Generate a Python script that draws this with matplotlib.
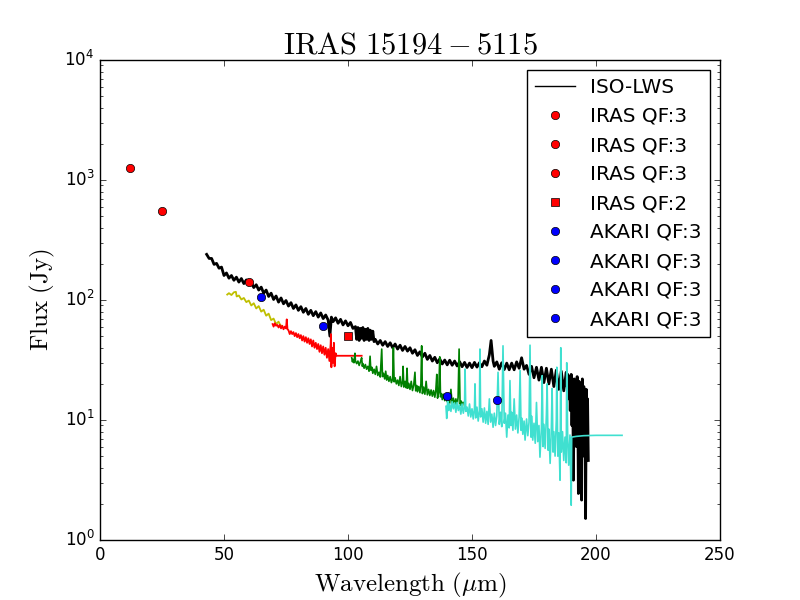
import matplotlib
matplotlib.use("Agg")
import matplotlib.pyplot as plt

plt.style.use("classic")

# ISO-LWS spectrum (black)
lws_wl = [43, 44, 45, 46, 47, 48, 49, 50, 51, 52, 53, 54, 55, 56, 57, 58, 59, 60,
          61, 62, 63, 64, 65, 66, 67, 68, 69, 70, 71, 72, 73, 74, 75, 76, 77, 78,
          79, 80, 81, 82, 83, 84, 85, 86, 87, 88, 89, 90, 91, 92, 92.7, 93.3, 94,
          95, 96, 97, 98, 99, 100, 101, 102, 103, 103.5, 104, 104.5, 105, 105.5,
          106, 106.5, 107, 107.5, 108, 108.5, 109, 109.5, 110, 110.5, 111, 112,
          113, 114, 115, 116, 117, 118, 119, 120, 121, 122, 123, 124, 125, 126,
          127, 128, 129, 130, 131, 132, 133, 134, 135, 136, 137, 138, 139, 140,
          141, 142, 143, 144, 145, 146, 147, 148, 149, 150, 151, 152, 153, 154,
          155, 156, 157, 157.7, 158.5, 159, 160, 161, 162, 163, 164, 165, 166,
          167, 168, 169, 170, 171, 172, 173, 174, 175, 176, 177, 178, 179, 180,
          181, 182, 183, 184, 185, 186, 187, 188, 188.3, 188.6, 189, 189.3,
          189.6, 190, 190.3, 190.6, 190.9, 191.2, 191.5, 191.8, 192.1, 192.4,
          192.7, 192.9, 193.2, 193.5, 193.8, 194, 194.2, 194.5, 194.8, 195.1,
          195.4, 195.6, 195.8, 196.1, 196.4, 196.6, 196.9]
lws_flux = [240, 222, 222, 198, 202, 184, 188, 160, 168, 152, 160, 146, 155, 141,
            151, 137, 147, 134, 140, 127, 134, 121, 128, 114, 121, 107, 114, 101,
            108, 96, 104, 93, 99, 89, 95, 85, 91, 82, 88, 79, 85, 76, 82, 74, 80,
            72, 78, 70, 75, 68, 50, 72, 66, 71, 64, 69, 62, 67, 61, 65, 58, 60, 47,
            59, 46, 58, 48, 59, 46, 57, 47, 58, 46, 56, 47, 55, 45, 47, 43, 46, 42,
            45, 41, 44, 40, 43, 39, 42, 38, 41, 37.5, 40, 36, 38.5, 34.5, 37, 33.5,
            36, 32, 34.5, 31, 33.3, 30, 32.3, 29.3, 31.6, 28.8, 31.5, 28.6, 31,
            28.2, 30.6, 27.8, 30.2, 27.4, 29.8, 27.3, 30.2, 27.6, 30, 27.8, 31,
            28.6, 35, 46, 31, 28, 30.5, 26.5, 30, 26.3, 29.8, 26.2, 29.8, 26.2,
            30.5, 27, 33, 26.5, 28.5, 24, 28, 22.5, 27.5, 21.5, 27.5, 20.5, 27, 20,
            26.5, 19, 26, 18, 25.5, 17.5, 25, 19, 24, 15, 23, 12, 24, 9, 20, 3.15,
            22, 8, 21, 6, 23, 9, 2.44, 21, 7, 19, 5.5, 2.15, 22, 5, 19, 7, 17, 1.51,
            18, 6, 15, 4.6]

# yellow segment
yel_wl = [51.3, 52, 53, 54, 54.8, 55.1, 56, 57, 58, 59, 60, 61, 62, 63, 64, 65,
          66, 67, 68, 69, 70, 71, 72, 73, 73.3]
yel_flux = [111, 114, 110, 116, 117, 107, 109, 101, 104, 96, 99, 90, 94, 85, 89,
            80, 83, 74, 77, 68, 70, 63, 66, 60, 61]

# red segment
red_wl = [69.6, 70, 70.5, 71, 71.5, 72, 72.5, 73, 73.5, 74, 74.5, 75, 75.3, 75.6,
          76, 76.5, 77, 77.5, 78, 78.5, 79, 79.5, 80, 80.5, 81, 81.5, 82, 82.5,
          83, 83.5, 84, 84.5, 85, 85.5, 86, 86.5, 87, 87.5, 88, 88.5, 89, 89.5,
          90, 90.5, 91, 91.5, 92, 92.5, 93, 93.1, 93.3, 93.6, 94, 94.3, 94.6, 95,
          95.4, 105.5]
red_flux = [63, 60, 64, 61, 62, 59, 62, 58, 61, 57, 60, 58, 69, 57, 56, 52, 55,
            52, 54, 50, 53, 49, 52, 48, 51, 46, 50, 45, 49, 44, 48, 43, 47, 41,
            46, 40, 44, 39, 43, 37, 42, 36, 41, 35, 40, 33, 39, 31, 43, 52, 27.5,
            40, 30, 44, 28, 36, 34.3, 34.3]

# green segment
grn_wl = [101.5, 101.8, 102, 102.4, 102.8, 103, 103.5, 104, 104.5, 105, 105.5,
          105.8, 106, 106.5, 107, 107.5, 108, 108.5, 108.9, 109.2, 109.6, 110,
          110.5, 111, 111.5, 112, 112.5, 113, 113.6, 113.9, 114.3, 114.8, 115.2,
          115.6, 116, 116.5, 117, 117.5, 118, 118.3, 118.6, 119, 119.5, 120,
          120.5, 121, 121.5, 122, 122.2, 122.5, 123, 123.5, 123.8, 124.1, 124.5,
          125, 125.5, 126, 126.5, 127, 127.3, 127.7, 128, 128.5, 129, 129.4,
          129.7, 130, 130.5, 131, 131.5, 132, 132.5, 133, 133.5, 134, 134.5, 135,
          135.4, 135.8, 136.1, 136.6, 137, 137.3, 137.7, 138, 138.5, 139, 139.5,
          140, 140.5, 141, 141.5, 142, 142.5, 143, 143.5, 144, 144.4, 144.8,
          145.2, 145.6, 146, 146.4]
grn_flux = [33, 30.5, 32, 30, 36, 31, 29.5, 31, 28.5, 30.5, 33, 28, 29.5, 27, 29,
            26.5, 28, 25.5, 34, 26, 27.5, 24.5, 26.5, 24, 28, 23.5, 25, 22.8, 39,
            23, 24.5, 22, 25.5, 21.5, 23.5, 21, 23, 20.5, 22, 40, 20.8, 22.5, 20,
            21.5, 19.4, 23, 19, 21, 28, 18.8, 21, 18.5, 27, 18.4, 20.2, 18, 21,
            17.6, 19.5, 25, 17.5, 19.4, 17.2, 19, 16.9, 20, 41.5, 16.6, 18.8, 16.4,
            21, 16.2, 18, 16, 17.8, 15.8, 17.6, 15.5, 17.5, 24, 15.2, 17, 33.6,
            15.6, 16.6, 14.8, 16.4, 14.5, 16.2, 14.2, 15.8, 13.8, 18, 13.6, 15.2,
            13.4, 15, 13, 15.5, 39, 13.2, 14.4, 12.6, 14]

# turquoise segment
tq_wl = [139.5, 139.8, 140.2, 140.6, 141, 141.5, 142, 142.5, 143, 143.5, 144,
         144.5, 145, 145.5, 146, 146.5, 147, 147.2, 147.5, 148, 148.5, 149,
         149.5, 150, 150.5, 151, 151.2, 151.5, 152, 152.5, 153, 153.2, 153.5,
         154, 154.5, 155, 155.5, 156, 156.5, 157, 157.5, 158, 158.5, 159, 159.5,
         160, 160.5, 161, 161.5, 162, 162.5, 163, 163.5, 164, 164.5, 165, 165.3,
         165.7, 166, 166.5, 167, 167.5, 168, 168.5, 169, 169.4, 169.8, 170,
         170.5, 171, 171.4, 172, 172.5, 173, 173.4, 173.8, 174, 174.5, 175,
         175.5, 176, 176.5, 177, 177.4, 178, 178.3, 178.7, 179, 179.5, 180,
         180.3, 180.7, 181, 181.5, 182, 182.3, 182.7, 183, 183.5, 184, 184.2,
         184.6, 185, 185.5, 185.8, 186, 186.5, 187, 187.5, 188, 188.2, 188.6,
         189, 189.5, 189.8, 190, 190.2, 192, 195, 200, 210.5]
tq_flux = [13, 10.3, 14.5, 12, 13.6, 11.8, 14.2, 12.4, 13.9, 11.6, 14, 12, 13.4,
           11.2, 13.6, 11.4, 13, 26.6, 11.8, 12.8, 10.8, 13.6, 10.6, 12.4, 10.2,
           12.6, 20, 10.4, 12.8, 9.8, 12, 39, 10.6, 12.4, 9.6, 12.6, 9.4, 11.8,
           9.2, 15, 9.6, 11.2, 8.7, 11.4, 9, 10.8, 25, 9.2, 11.6, 8.8, 41.5, 9.4,
           11.4, 7.2, 11, 8.6, 21.3, 9, 11.6, 8.2, 15, 8.4, 11, 7.8, 10.6, 25.8,
           8.2, 10.4, 7.6, 9.8, 6.8, 10.2, 7.4, 9.6, 42, 7.2, 10.8, 6.8, 9.4, 6.4,
           14, 6.6, 9, 4.9, 8.6, 23.4, 6, 9.2, 5.8, 11, 20, 5.6, 8.4, 4.35, 8.6,
           18.3, 5.4, 8, 5, 10, 27.5, 5, 7.8, 3.15, 40, 5.4, 8, 4.6, 7.2, 4.4, 30,
           6.8, 4.2, 7.5, 3.5, 1.95, 7.2, 7.3, 7.4, 7.45, 7.45]

# photometry
iras_wl = [12, 25, 60]
iras_flux = [1270, 550, 141]
iras_qf2_wl = [100]
iras_qf2_flux = [50.5]
akari_wl = [65, 90, 140, 160]
akari_flux = [106, 61, 16, 14.8]

fig = plt.figure(figsize=(8, 6))
ax = fig.add_subplot(111)

ax.plot(lws_wl, lws_flux, color="k", lw=2, label="ISO-LWS")
ax.plot(yel_wl, yel_flux, color="y", lw=1.3)
ax.plot(red_wl, red_flux, color="r", lw=1.3)
ax.plot(grn_wl, grn_flux, color="g", lw=1.2)
ax.plot(tq_wl, tq_flux, color="turquoise", lw=1.2)

for w, f in zip(iras_wl, iras_flux):
    ax.plot([w], [f], "o", color="r", mec="k", mew=0.5, ms=6, label="IRAS QF:3")
for w, f in zip(iras_qf2_wl, iras_qf2_flux):
    ax.plot([w], [f], "s", color="r", mec="k", mew=0.5, ms=6, label="IRAS QF:2")
for w, f in zip(akari_wl, akari_flux):
    ax.plot([w], [f], "o", color="b", mec="k", mew=0.5, ms=6, label="AKARI QF:3")

ax.set_yscale("log")
ax.set_xlim(0, 250)
ax.set_ylim(1, 1e4)
ax.set_xlabel(r"$\mathrm{Wavelength\ (\mu m)}$", fontsize=18)
ax.set_ylabel(r"$\mathrm{Flux\ (Jy)}$", fontsize=18)
ax.set_title(r"$\mathrm{IRAS\ 15194-5115}$", fontsize=22)
leg = ax.legend(loc="upper right", numpoints=1, fontsize=14.4)
# legend line stays thin
leg.get_lines()[0].set_linewidth(1)

fig.savefig("out.png", dpi=100)
